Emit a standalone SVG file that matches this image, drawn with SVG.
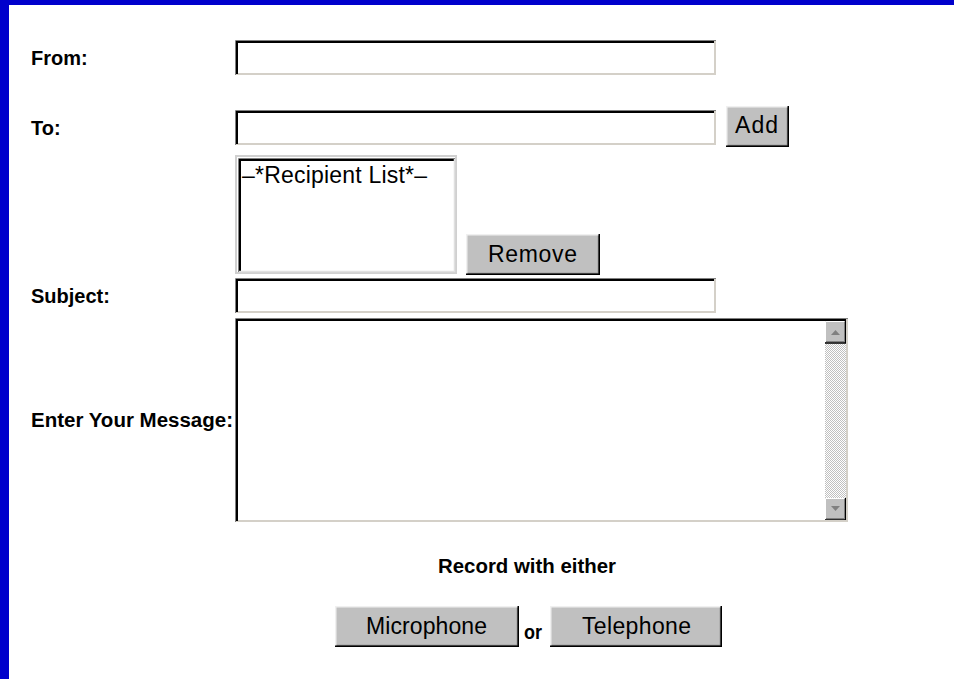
<svg xmlns="http://www.w3.org/2000/svg" width="954" height="679" viewBox="0 0 954 679">
  <defs>
    <pattern id="dither" width="2" height="2" patternUnits="userSpaceOnUse">
      <rect width="2" height="2" fill="#ffffff"/>
      <rect x="0" y="0" width="1" height="1" fill="#c0c0c0"/>
      <rect x="1" y="1" width="1" height="1" fill="#c0c0c0"/>
    </pattern>
  </defs>
  <style>
    .lbl { font-family: "Liberation Sans", Arial, sans-serif; font-weight: bold; font-size: 20px; fill: #000; }
    .btxt { font-family: "Liberation Sans", Arial, sans-serif; font-size: 23px; fill: #000; }
    .field { fill: #ffffff; }
    .o-tl { fill: none; stroke: #808080; stroke-width: 1; }
    .i-tl { fill: none; stroke: #000000; stroke-width: 2; }
    .o-br { fill: none; stroke: #d4d0c8; stroke-width: 2; }
    .btn { fill: #c0c0c0; }
    .b-tl { fill: none; stroke: #f0f0f0; stroke-width: 1.5; }
    .b-br { fill: none; stroke: #000000; stroke-width: 1.5; }
    .b-br2 { fill: none; stroke: #808080; stroke-width: 1.5; }
  </style>

  <rect x="0" y="0" width="954" height="679" fill="#ffffff"/>
  <g id="frame">
    <rect x="0" y="0" width="954" height="5" fill="#0000cc"/>
    <rect x="0" y="0" width="9" height="679" fill="#0000cc"/>
  </g>

  <g id="from">
    <text class="lbl" x="31" y="65">From:</text>
    <rect class="field" x="235" y="40" width="481" height="35"/>
    <path class="o-br" d="M236,74 H715 V41"/>
    <path class="o-tl" d="M235.5,75 V40.5 H716"/>
    <path class="i-tl" d="M237,74 V42 H714"/>
  </g>

  <g id="to">
    <text class="lbl" x="31" y="135">To:</text>
    <rect class="field" x="235" y="110" width="481" height="35"/>
    <path class="o-br" d="M236,144 H715 V111"/>
    <path class="o-tl" d="M235.5,145 V110.5 H716"/>
    <path class="i-tl" d="M237,144 V112 H714"/>
  </g>

  <g id="add">
    <rect class="btn" x="726" y="106" width="63" height="41"/>
    <path class="b-tl" d="M726.75,146 V106.75 H788"/>
    <path class="b-br2" d="M727.5,145.5 H787.5 V107.5"/>
    <path class="b-br" d="M726,146.25 H788.25 V106"/>
    <text class="btxt" x="735" y="133" textLength="43" lengthAdjust="spacing">Add</text>
  </g>

  <g id="recipients">
    <rect class="field" x="235" y="155" width="222" height="119"/>
    <rect x="236" y="156" width="220" height="117" fill="none" stroke="#d0d0d0" stroke-width="2"/>
    <path class="o-tl" d="M238.5,272 V158.5 H455"/>
    <path class="i-tl" d="M240,271 V160 H454"/>
    <path fill="none" stroke="#e0e0e0" stroke-width="1.5" d="M239,271.5 H454.5 V159"/>
    <text class="btxt" x="242" y="183" textLength="185" lengthAdjust="spacing">–*Recipient List*–</text>
  </g>

  <g id="remove">
    <rect class="btn" x="466" y="234" width="134" height="41"/>
    <path class="b-tl" d="M466.75,274 V234.75 H599"/>
    <path class="b-br2" d="M467.5,273.5 H598.5 V235.5"/>
    <path class="b-br" d="M466,274.25 H599.25 V234"/>
    <text class="btxt" x="488" y="262" textLength="89" lengthAdjust="spacing">Remove</text>
  </g>

  <g id="subject">
    <text class="lbl" x="31" y="303">Subject:</text>
    <rect class="field" x="235" y="278" width="481" height="35"/>
    <path class="o-br" d="M236,312 H715 V279"/>
    <path class="o-tl" d="M235.5,313 V278.5 H716"/>
    <path class="i-tl" d="M237,312 V280 H714"/>
  </g>

  <g id="message">
    <text class="lbl" x="31" y="427" textLength="202" lengthAdjust="spacingAndGlyphs">Enter Your Message:</text>
    <rect class="field" x="235" y="318" width="613" height="204"/>
    <rect x="825" y="321" width="21" height="199" fill="url(#dither)"/>
    <g id="scroll-up">
      <rect x="825" y="321" width="21" height="22" fill="#c0c0c0"/>
      <path fill="none" stroke="#ffffff" stroke-width="1" d="M825.5,342 V321.5 H845"/>
      <path fill="none" stroke="#000000" stroke-width="1.5" d="M825,343 H845.5 V321"/>
      <path fill="none" stroke="#808080" stroke-width="1" d="M826,341.5 H844.5 V322"/>
      <polygon points="831,335 840,335 835.5,330" fill="#808080"/>
    </g>
    <g id="scroll-down">
      <rect x="825" y="498" width="21" height="22" fill="#c0c0c0"/>
      <path fill="none" stroke="#ffffff" stroke-width="1" d="M825.5,519 V498.5 H845"/>
      <path fill="none" stroke="#000000" stroke-width="1.5" d="M825,520 H845.5 V498"/>
      <path fill="none" stroke="#808080" stroke-width="1" d="M826,518.5 H844.5 V499"/>
      <polygon points="831,506 840,506 835.5,511" fill="#808080"/>
    </g>
    <path class="o-br" d="M236,521 H847 V319"/>
    <path class="o-tl" d="M235.5,522 V318.5 H848"/>
    <path class="i-tl" d="M237,521 V320 H846"/>
  </g>

  <g id="record">
    <text class="lbl" x="438" y="573" textLength="178" lengthAdjust="spacingAndGlyphs">Record with either</text>
  </g>

  <g id="microphone">
    <rect class="btn" x="335" y="606" width="184" height="41"/>
    <path class="b-tl" d="M335.75,646 V606.75 H518"/>
    <path class="b-br2" d="M336.5,645.5 H517.5 V607.5"/>
    <path class="b-br" d="M335,646.25 H518.25 V606"/>
    <text class="btxt" x="366" y="634" textLength="121" lengthAdjust="spacing">Microphone</text>
  </g>

  <g id="or">
    <text class="lbl" x="524" y="639" textLength="18" lengthAdjust="spacingAndGlyphs">or</text>
  </g>

  <g id="telephone">
    <rect class="btn" x="550" y="606" width="172" height="41"/>
    <path class="b-tl" d="M550.75,646 V606.75 H721"/>
    <path class="b-br2" d="M551.5,645.5 H720.5 V607.5"/>
    <path class="b-br" d="M550,646.25 H721.25 V606"/>
    <text class="btxt" x="582" y="634" textLength="109" lengthAdjust="spacing">Telephone</text>
  </g>

  <g id="connectors"/>
</svg>
